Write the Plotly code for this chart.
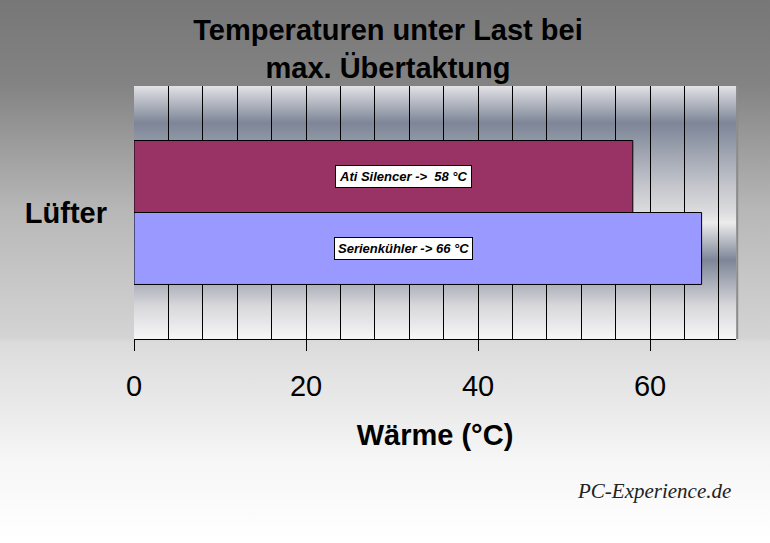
import base64
import plotly.graph_objects as go

# ---- data ----
categories = ["Lüfter"]
series_names = ["Serienkühler", "Ati Silencer"]
series_values = [[66], [58]]
series_colors = ["#9999FF", "#993366"]
label_texts = ["Serienkühler -> 66 °C", "Ati Silencer ->\u00a0\u00a058 °C"]
x_tickvals = [0, 20, 40, 60]
x_range = [0, 70]
grid_step = 4

W, H = 770, 543
ML, MR, MT, MB = 134, 34, 86, 204
PW, PH = W - ML - MR, H - MT - MB


def svg_grad(stops, w, h):
    s = "".join(f'<stop offset="{o}" stop-color="{c}"/>' for o, c in stops)
    svg = (f'<svg xmlns="http://www.w3.org/2000/svg" width="{w}" height="{h}" '
           f'viewBox="0 0 {w} {h}" preserveAspectRatio="none"><defs>'
           f'<linearGradient id="g" x1="0" y1="0" x2="0" y2="1">{s}</linearGradient>'
           f'</defs><rect x="0" y="0" width="{w}" height="{h}" fill="url(#g)"/></svg>')
    return "data:image/svg+xml;base64," + base64.b64encode(svg.encode()).decode()


paper_stops = [(0, "#777777"), (85 / H, "#838383"), (210 / H, "#b7b7b7"),
               (338 / H, "#d4d4d4"), (342 / H, "#dbdbdb"), (460 / H, "#f6f6f6"),
               (1, "#ffffff")]
plot_stops = [(0, "#e2e2e6"), (0.146, "#7d8597"), (0.395, "#c4c6cc"),
              (0.498, "#dcdcde"), (0.54, "#ececec"), (0.688, "#7d8597"),
              (0.87, "#d8d8dc"), (1, "#f6f6f6")]

fig = go.Figure()
for name, vals, col in zip(series_names, series_values, series_colors):
    fig.add_trace(go.Bar(
        y=categories, x=vals, name=name, orientation="h",
        marker=dict(color=col, line=dict(color="black", width=1)),
        hoverinfo="skip", showlegend=False,
    ))

label_x = 31.3
label_y = [-0.142, 0.142]
annotations = []
for txt, yy in zip(label_texts, label_y):
    annotations.append(dict(
        x=label_x, y=yy, xref="x", yref="y", text=txt, showarrow=False,
        font=dict(family="Arial, Liberation Sans", size=13, color="black",
                  weight="bold", style="italic"),
        bgcolor="white", bordercolor="black", borderwidth=1, borderpad=3,
    ))
annotations.append(dict(
    x=(733 - ML) / PW, y=1 - (491 - MT) / PH, xref="paper", yref="paper",
    xanchor="right", yanchor="middle", text="PC-Experience.de", showarrow=False,
    font=dict(family="Liberation Serif", size=21, color="#222222", style="italic"),
))

images = [
    dict(source=svg_grad(paper_stops, W, H), xref="paper", yref="paper",
         x=-ML / PW, y=1 + MT / PH, sizex=W / PW, sizey=H / PH,
         xanchor="left", yanchor="top", sizing="stretch", layer="below"),
    dict(source=svg_grad(plot_stops, PW, PH), xref="paper", yref="paper",
         x=0, y=1, sizex=1, sizey=1, xanchor="left", yanchor="top",
         sizing="stretch", layer="below"),
]

shapes = [dict(type="line", xref="paper", yref="paper", x0=1.002, x1=1.002,
               y0=0, y1=1, line=dict(color="#8c8c8c", width=2), layer="below")]

fig.update_layout(
    width=W, height=H,
    margin=dict(l=ML, r=MR, t=MT, b=MB, autoexpand=False),
    paper_bgcolor="#c0c0c0", plot_bgcolor="rgba(0,0,0,0)",
    barmode="group", bargap=0.431, bargroupgap=0,
    title=dict(text="Temperaturen unter Last bei<br>max. Übertaktung",
               x=388 / W, xref="container", xanchor="center",
               y=1 - 40 / H, yref="container", yanchor="middle",
               font=dict(family="Arial, Liberation Sans", size=29, color="black",
                         weight="bold")),
    font=dict(family="Arial, Liberation Sans", color="black"),
    images=images, shapes=shapes, annotations=annotations,
    xaxis=dict(range=x_range, tickvals=x_tickvals, ticks="outside", ticklen=11,
               tickcolor="black", tickwidth=1, showline=True, linecolor="black",
               linewidth=1, showgrid=True, gridcolor="black", gridwidth=1,
               zeroline=False, tickfont=dict(size=29, color="black"),
               ticklabelstandoff=10,
               minor=dict(dtick=grid_step, tick0=0, showgrid=True,
                          gridcolor="black", gridwidth=1, ticks=""),
               title=dict(text="Wärme (°C)", standoff=23,
                          font=dict(size=29, weight="bold", color="black")),
               fixedrange=True),
    yaxis=dict(range=[-0.5, 0.5], showgrid=False, zeroline=False, showline=False,
               ticks="", tickfont=dict(size=29, weight="bold", color="black"),
               ticklabelstandoff=26, fixedrange=True),
)

fig.write_html("out.html", config={"displayModeBar": False},
               post_script="document.body.style.margin='0';"
                           "document.body.style.overflow='hidden';")
